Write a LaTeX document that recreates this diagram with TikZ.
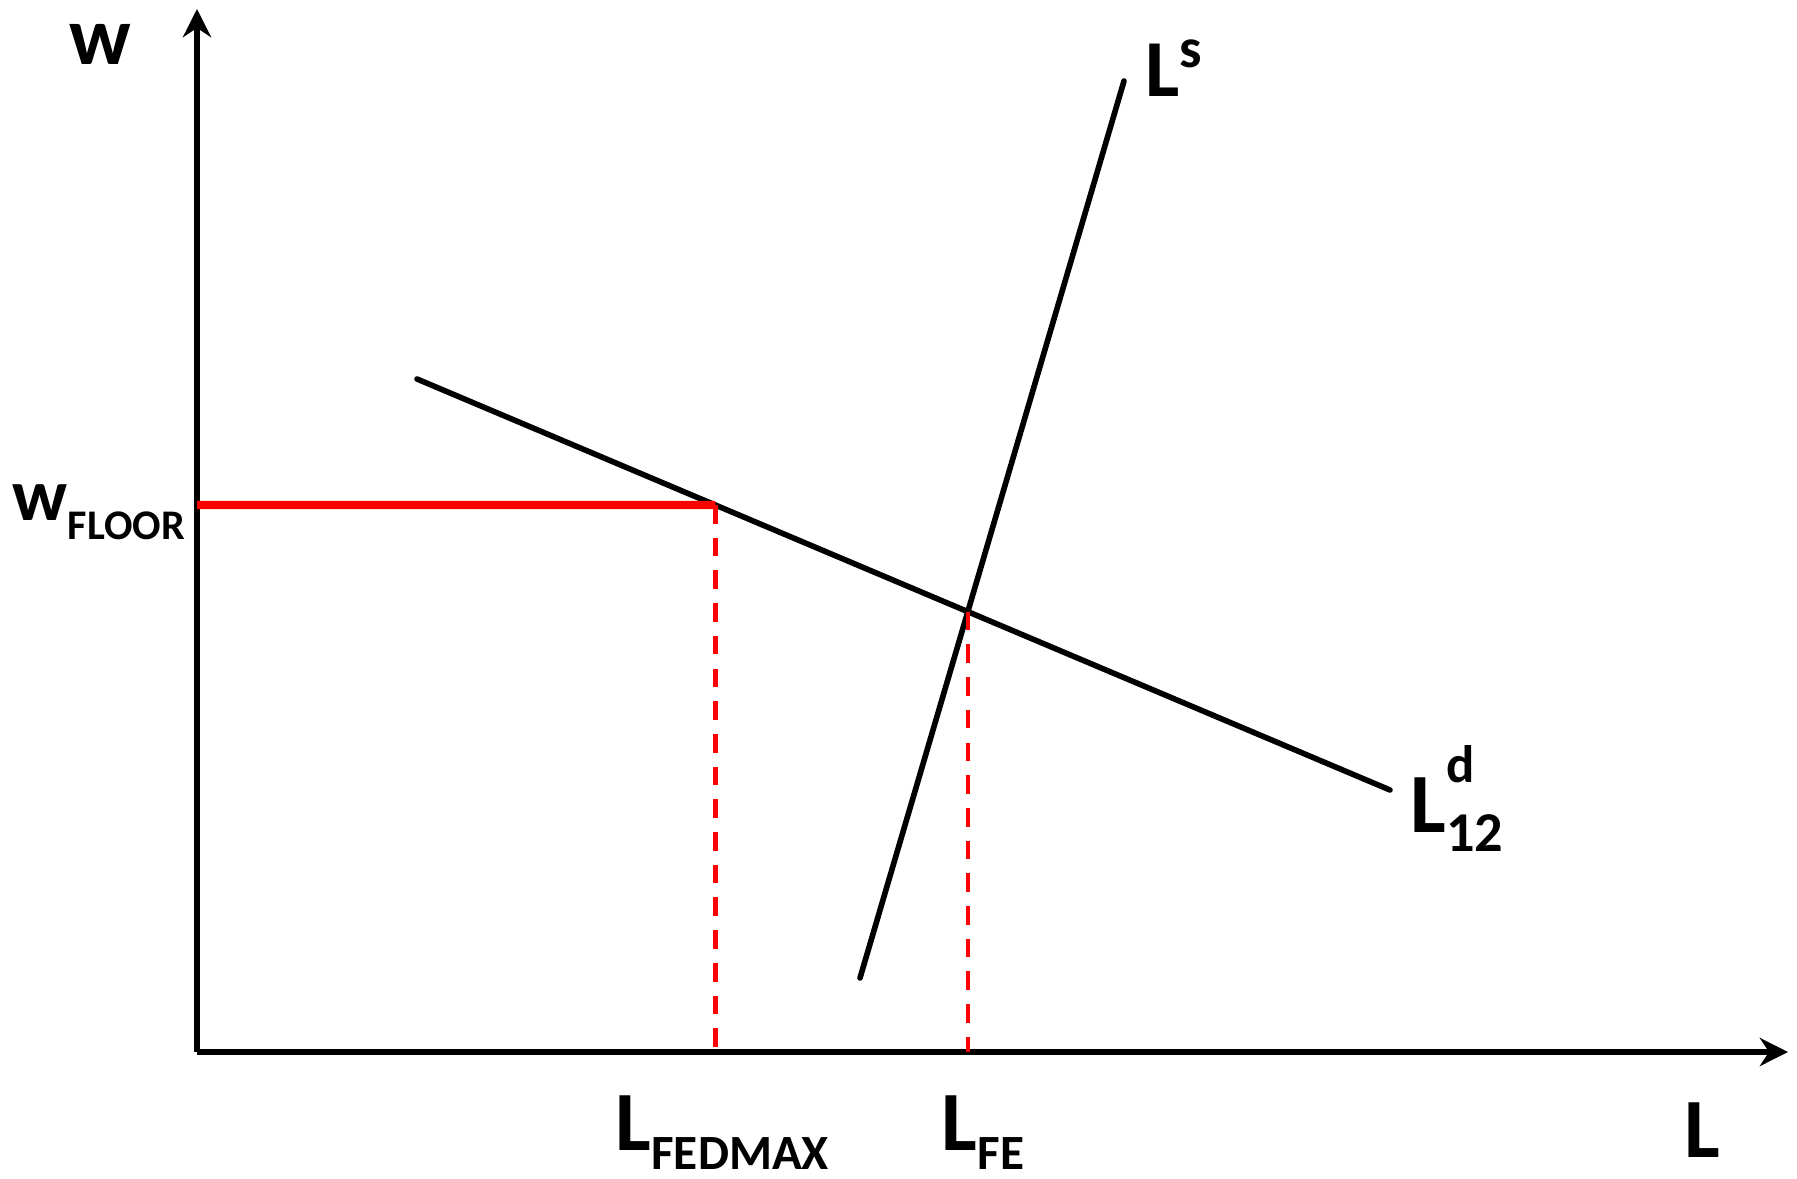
\documentclass[tikz,border=0pt]{standalone}
\usepackage{fontspec}
\setmainfont{Carlito}
\usepackage{tikz}
\usetikzlibrary{arrows.meta,positioning}
\definecolor{floorred}{HTML}{FF0000}
\newcommand{\fsz}[1]{\fontsize{#1}{#1}\selectfont}

\begin{document}
\begin{tikzpicture}[
    x=0.01cm, y=-0.01cm,
    axis/.style={line width=1.5pt, -{Stealth[length=8pt, width=8pt, inset=2.6pt]}},
    curve/.style={line width=1.6pt, line cap=round},
    floor/.style={line width=2.4pt, color=floorred},
    guide/.style={line width=1.25pt, color=floorred, dash pattern=on 5.3pt off 4pt},
    lbl/.style={inner sep=0pt, font=\bfseries}
]
\useasboundingbox (0,0) rectangle (1797,1179);

% axes
\coordinate (O) at (197,1052);
\coordinate (ytop) at (197,9);
\coordinate (xend) at (1788,1052);
\draw[axis] (O) -- (ytop);
\draw[axis] (O) -- (xend);

% supply and demand
\coordinate (s1) at (860,978);
\coordinate (s2) at (1124,81);
\coordinate (d1) at (417,379);
\coordinate (d2) at (1390,790);
\draw[curve] (s1) -- (s2);
\draw[curve] (d1) -- (d2);
\coordinate (E) at (intersection of s1--s2 and d1--d2);
\coordinate (wf) at (197,505);
\coordinate (wr) at (900,505);
\coordinate (F) at (intersection of wf--wr and d1--d2);

% wage floor
\draw[floor] (wf) -- (F);
\draw[guide] (F) -- (F |- O);
\draw[guide] (E) -- (E |- O);

% labels
\node[lbl, anchor=base west] (wlab) at (69,65) {\fsz{23.5}w};
\node[lbl, anchor=base west] (wfloor) at (12,520)
    {\fsz{21}w\raisebox{-5.5pt}{\fsz{12}FLOOR}};
\node[lbl, anchor=base west] (lfedmax) at (615,1150)
    {\fsz{24}L\raisebox{-5.6pt}{\fsz{14}FEDMAX}};
\node[lbl, anchor=base west] (lfe) at (941,1150)
    {\fsz{24}L\raisebox{-5.6pt}{\fsz{14}FE}};
\node[lbl, anchor=base west] (llab) at (1684,1157) {\fsz{24}L};
\node[lbl, anchor=base west] (lslab) at (1145,97)
    {\fsz{23}L\raisebox{8.3pt}{\fsz{16}s}};
\node[lbl, anchor=base west] (ldlab) at (1410,832)
    {\fsz{24}L\rlap{\raisebox{14pt}{\fsz{15}d}}\raisebox{-5.6pt}{\fsz{16}12}};
\end{tikzpicture}
\end{document}
